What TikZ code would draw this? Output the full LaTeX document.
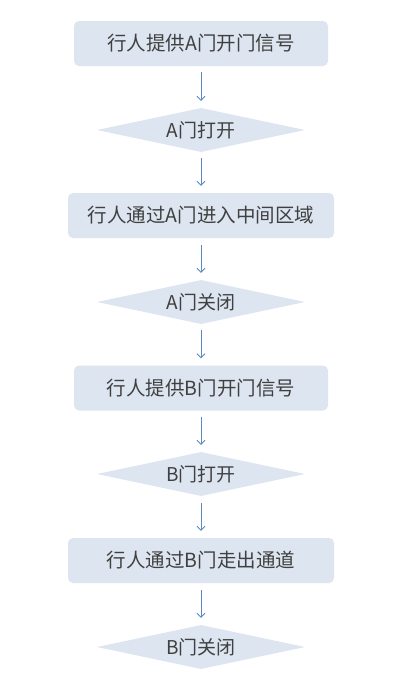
\documentclass[tikz,border=0pt]{standalone}
\usepackage{fontspec}
\setmainfont{Noto Sans CJK SC}
\usetikzlibrary{shapes.geometric,arrows.meta}
\definecolor{boxfill}{HTML}{DCE5F0}
\definecolor{arrowc}{HTML}{5A8AC0}
\definecolor{txt}{HTML}{404040}
\begin{document}
\begin{tikzpicture}[x=1pt,y=-1pt,
  procbox/.style={fill=boxfill,rounded corners=5pt,minimum height=45pt,text=txt,font=\fontsize{19.5}{22}\selectfont,inner sep=0pt},
  decbox/.style={diamond,fill=boxfill,aspect=4.7,minimum width=208pt,minimum height=44pt,inner sep=0pt,text=txt,font=\fontsize{19}{22}\selectfont},
  flow/.style={draw=arrowc,line width=0.9pt,-{Straight Barb[length=4pt,width=8pt]}}]
\useasboundingbox (0,0) rectangle (404,683);
\fill[white] (0,0) rectangle (404,683);
\node[procbox,minimum width=254pt] (b1) at (201,43.5) {行人提供A门开门信号};
\node[decbox] (d1) at (201,130) {A门打开};
\node[procbox,minimum width=266pt] (b2) at (201,215.5) {行人通过A门进入中间区域};
\node[decbox] (d2) at (201,302) {A门关闭};
\node[procbox,minimum width=254pt] (b3) at (201,388) {行人提供B门开门信号};
\node[decbox] (d3) at (201,474) {B门打开};
\node[procbox,minimum width=266pt] (b4) at (201,560.5) {行人通过B门走出通道};
\node[decbox] (d4) at (201,647) {B门关闭};
\draw[flow] ([yshift=-6pt]b1.south) -- ([yshift=7pt]d1.north);
\draw[flow] ([yshift=-6pt]d1.south) -- ([yshift=7pt]b2.north);
\draw[flow] ([yshift=-7pt]b2.south) -- ([yshift=7pt]d2.north);
\draw[flow] ([yshift=-6pt]d2.south) -- ([yshift=7pt]b3.north);
\draw[flow] ([yshift=-6pt]b3.south) -- ([yshift=7pt]d3.north);
\draw[flow] ([yshift=-7pt]d3.south) -- ([yshift=7pt]b4.north);
\draw[flow] ([yshift=-7pt]b4.south) -- ([yshift=7pt]d4.north);
\end{tikzpicture}
\end{document}
